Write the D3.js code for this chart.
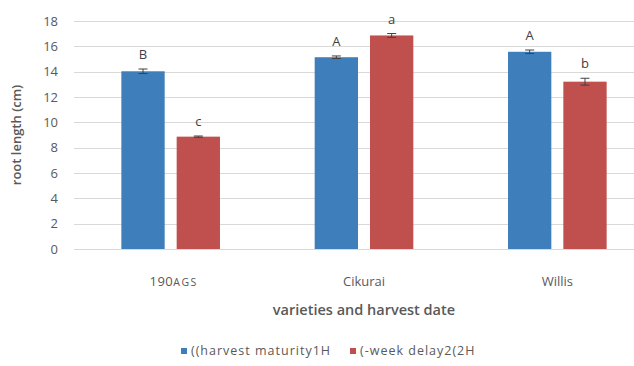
<!DOCTYPE html>
<html>
<head>
<meta charset="utf-8">
<script src="https://cdn.jsdelivr.net/npm/d3@7/dist/d3.min.js"></script>
<style>
  html, body { margin: 0; padding: 0; background: #fff; }
  svg { display: block; }
  text { font-family: "Open Sans", "Liberation Sans", sans-serif; }
</style>
</head>
<body>
<svg id="chart" width="634" height="366"></svg>
<script>
// Root length by variety and harvest date
const varieties = ["190AGS", "Cikurai", "Willis"];
const seriesNames = ["((harvest maturity1H", "(-week delay2(2H"];
const maturityValues = [14.03, 15.14, 15.57];
const delayValues = [8.87, 16.86, 13.21];
const maturityErrors = [0.18, 0.1, 0.14];
const delayErrors = [0.05, 0.15, 0.27];
const maturityLetters = ["B", "A", "A"];
const delayLetters = ["c", "a", "b"];
const yTicks = [0, 2, 4, 6, 8, 10, 12, 14, 16, 18];
const seriesColors = ["#3d7ebb", "#c0504d"];

const rows = varieties.map((v, i) => ({
  variety: v,
  bars: [
    { key: seriesNames[0], value: maturityValues[i], err: maturityErrors[i], letter: maturityLetters[i] },
    { key: seriesNames[1], value: delayValues[i], err: delayErrors[i], letter: delayLetters[i] }
  ]
}));

const svg = d3.select("#chart");
const plot = { left: 74, right: 654, top: 21, bottom: 249 };

const y = d3.scaleLinear().domain([0, 18]).range([plot.bottom, plot.top]);
const x0 = d3.scaleBand().domain(varieties).range([plot.left, plot.right]).padding(0);
const x1 = d3.scaleBand().domain(seriesNames).range([0, x0.bandwidth()])
  .paddingInner(0.217).paddingOuter(0.856);
const color = d3.scaleOrdinal().domain(seriesNames).range(seriesColors);

// Gridlines
svg.append("g")
  .selectAll("line")
  .data(yTicks)
  .join("line")
  .attr("x1", plot.left).attr("x2", 634)
  .attr("y1", d => Math.round(y(d)) + 0.5).attr("y2", d => Math.round(y(d)) + 0.5)
  .attr("stroke", "#d9d9d9").attr("stroke-width", 1);

// Y axis labels
const yAxis = d3.axisLeft(y).tickValues(yTicks).tickSize(0).tickPadding(0);
const gy = svg.append("g").attr("transform", "translate(58,0)").call(yAxis);
gy.select(".domain").remove();
gy.selectAll("text")
  .attr("font-size", 13).attr("fill", "#595959")
  .attr("font-family", "'Liberation Sans', sans-serif");

// Bars
const groups = svg.append("g").selectAll("g")
  .data(rows).join("g")
  .attr("transform", d => `translate(${x0(d.variety)},0)`);

groups.selectAll("rect")
  .data(d => d.bars).join("rect")
  .attr("x", d => x1(d.key))
  .attr("width", x1.bandwidth())
  .attr("y", d => y(d.value))
  .attr("height", d => y(0) - y(d.value))
  .attr("fill", d => color(d.key));

// Error bars
const eb = groups.selectAll("g.err")
  .data(d => d.bars).join("g").attr("class", "err")
  .attr("stroke", "#404040").attr("stroke-width", 1);
eb.append("line")
  .attr("x1", d => x1(d.key) + x1.bandwidth() / 2)
  .attr("x2", d => x1(d.key) + x1.bandwidth() / 2)
  .attr("y1", d => y(d.value + d.err)).attr("y2", d => y(d.value - d.err));
eb.append("line")
  .attr("x1", d => x1(d.key) + x1.bandwidth() / 2 - 4.5)
  .attr("x2", d => x1(d.key) + x1.bandwidth() / 2 + 4.5)
  .attr("y1", d => y(d.value + d.err)).attr("y2", d => y(d.value + d.err));
eb.append("line")
  .attr("x1", d => x1(d.key) + x1.bandwidth() / 2 - 4.5)
  .attr("x2", d => x1(d.key) + x1.bandwidth() / 2 + 4.5)
  .attr("y1", d => y(d.value - d.err)).attr("y2", d => y(d.value - d.err));

// Significance letters
groups.selectAll("text.letter")
  .data(d => d.bars).join("text").attr("class", "letter")
  .attr("x", d => x1(d.key) + x1.bandwidth() / 2)
  .attr("y", d => y(d.value + d.err) - 10)
  .attr("text-anchor", "middle")
  .attr("font-size", 13).attr("fill", "#404040")
  .text(d => d.letter);

// Category labels
const xl = svg.append("g").selectAll("text")
  .data(varieties).join("text")
  .attr("x", d => x0(d) + x0.bandwidth() / 2 + (d === "190AGS" ? 3 : 0))
  .attr("y", 286)
  .attr("text-anchor", "middle")
  .attr("font-size", 13).attr("fill", "#595959");
xl.each(function(d) {
  const t = d3.select(this);
  const m = d.match(/^(\d+)([A-Z]+)$/);
  if (m) {
    t.append("tspan").attr("letter-spacing", 0.5).text(m[1]);
    t.append("tspan").attr("font-size", 10.5).attr("letter-spacing", 1.5).text(m[2]);
  } else {
    t.text(d);
  }
});

// Axis titles
svg.append("text")
  .attr("x", 364).attr("y", 315)
  .attr("text-anchor", "middle")
  .attr("font-size", 14.5).attr("font-weight", 600).attr("fill", "#595959")
  .text("varieties and harvest date");

svg.append("text")
  .attr("transform", `translate(21,${(plot.top + plot.bottom) / 2}) rotate(-90)`)
  .attr("text-anchor", "middle")
  .attr("font-size", 13).attr("font-weight", 600).attr("fill", "#595959")
  .text("root length (cm)");

// Legend
const legendX = [181, 350];
const lg = svg.append("g").selectAll("g")
  .data(seriesNames).join("g")
  .attr("transform", (d, i) => `translate(${legendX[i]},349)`);
lg.append("rect").attr("width", 6).attr("height", 6).attr("y", -1)
  .attr("fill", d => color(d));
lg.append("text")
  .attr("x", 10).attr("y", 6)
  .attr("font-size", 12.5).attr("letter-spacing", 1).attr("fill", "#595959")
  .text(d => d);
</script>
</body>
</html>
